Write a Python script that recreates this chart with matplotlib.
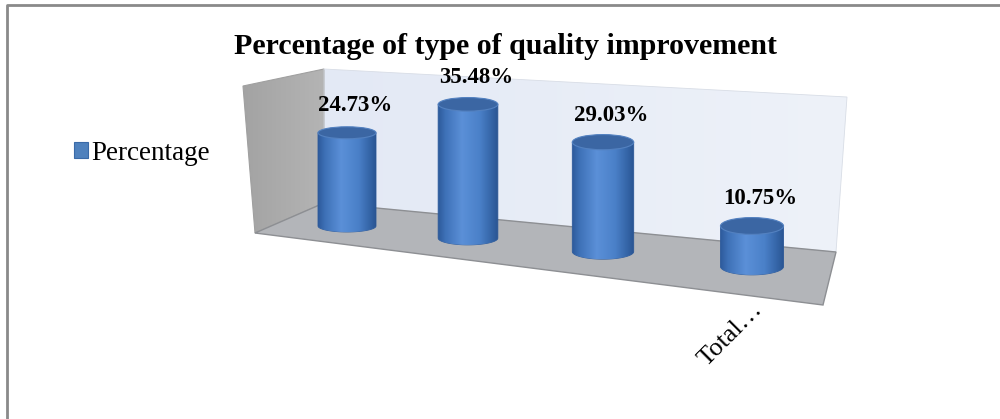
import numpy as np
import matplotlib
matplotlib.use('Agg')
import matplotlib.pyplot as plt
from matplotlib.patches import Polygon, Ellipse, PathPatch, Patch
from matplotlib.path import Path
from matplotlib.colors import to_rgb

# data
title = 'Percentage of type of quality improvement'
series_name = 'Percentage'
categories = ['', '', '', 'Total\u2026']   # only the last category name is shown in the chart
values = [24.73, 35.48, 29.03, 10.75]

serif = ['Liberation Serif', 'DejaVu Serif']

fig = plt.figure(figsize=(10, 4.19), dpi=100)
ax = fig.add_axes([0, 0, 1, 1])
ax.set_xlim(0, 1000)
ax.set_ylim(419, 0)
ax.axis('off')

# faux 3d box: left wall, back wall, floor
left_wall = [(243, 86), (324, 69), (324, 203), (255, 233)]
back_wall = [(324, 69), (847, 97), (836, 252), (324, 203)]
floor = [(324, 203), (836, 252), (823, 305), (255, 233)]

lw_poly = Polygon(left_wall, closed=True, fc='none', ec='#a0a0a0', lw=0.8, zorder=1.2)
ax.add_patch(lw_poly)
g = np.linspace(0, 1, 100)[None, :, None]
lc0, lc1 = np.array(to_rgb('#a3a3a3')), np.array(to_rgb('#b4b4b4'))
lim = ax.imshow(lc0 + (lc1 - lc0) * g, extent=(243, 324, 233, 69), aspect='auto', zorder=1.1)
lim.set_clip_path(lw_poly)

# back wall with a faint gradient
grad = np.linspace(0, 1, 200)[None, :, None]
c0, c1 = np.array(to_rgb('#e3e9f5')), np.array(to_rgb('#eef2f9'))
bw = Polygon(back_wall, closed=True, fc='none', ec='#d8dde6', lw=0.6, zorder=1.2)
ax.add_patch(bw)
im = ax.imshow(c0 + (c1 - c0) * grad, extent=(324, 847, 252, 69), aspect='auto', zorder=1.1)
im.set_clip_path(bw)
ax.add_patch(Polygon(floor, closed=True, fc='#b3b5b9', ec='#8d8f93', lw=1.0, zorder=2))


def project(i, v):
    # perspective-ish placement of category i with value v
    cx = 347 + 114 * i + 7 * i * i
    rx = (58 + 1.7 * i) / 2
    ry = 6 + 0.8 * i
    yb = 226 + 0.1 * (cx - 347)
    yt = yb - 3.77 * v
    return cx, rx, ry, yb, yt


stops = [0.0, 0.12, 0.4, 0.7, 0.9, 1.0]
stop_cols = np.array([to_rgb(c) for c in
                      ['#2d5a9b', '#3e71b7', '#5b90d8', '#4a80c8', '#3464a6', '#2a5593']])
xs = np.linspace(0, 1, 120)
body_img = np.stack([np.interp(xs, stops, stop_cols[:, k]) for k in range(3)], axis=-1)[None, :, :]

for i, v in enumerate(values):
    cx, rx, ry, yb, yt = project(i, v)
    t = np.linspace(np.pi, 0, 40)
    arc = np.column_stack([cx + rx * np.cos(t), yb + ry * np.sin(t)])
    pts = np.vstack([[cx - rx, yt], arc, [cx + rx, yt], [cx - rx, yt]])
    body = PathPatch(Path(pts, closed=True), fc='none', ec='#2f5c9c', lw=0.6, zorder=3 + i)
    ax.add_patch(body)
    bim = ax.imshow(body_img, extent=(cx - rx, cx + rx, yb + ry, yt), aspect='auto', zorder=3 + i)
    bim.set_clip_path(body)
    ax.add_patch(Ellipse((cx, yt), 2 * rx, 2 * ry, fc='#3b66a3', ec='#5381c0', lw=0.8, zorder=3.5 + i))
    ax.text(cx + 8, yt - 27, f'{v:.2f}%', ha='center', va='center', family=serif,
            fontsize=16.5, fontweight='bold', color='black', zorder=10)

# category labels (only the last one is visible in the original)
for i, c in enumerate(categories):
    if not c:
        continue
    cx, rx, ry, yb, yt = project(i, 0)
    ax.text(cx + 7, yb + 40, c, rotation=45, rotation_mode='anchor', ha='right', va='center',
            family=serif, fontsize=19, color='black', zorder=10)

ax.text(505, 46, title, ha='center', va='center', family=serif, fontsize=21.5,
        fontweight='bold', color='black')

handle = Patch(fc='#4f81bd', ec='#3a6aa8', lw=0.8)
ax.legend([handle], [series_name], loc='center left', bbox_to_anchor=(0.074, 1 - 153 / 419),
          frameon=False, prop={'family': serif, 'size': 19.5}, handlelength=0.5,
          handleheight=0.5, handletextpad=0.12, borderpad=0, borderaxespad=0)

# outer frame
ax.plot([7, 7, 1000], [419, 5, 5], color='#8a8a8a', lw=2, zorder=0, solid_capstyle='butt')

fig.savefig('out.png', dpi=100)
